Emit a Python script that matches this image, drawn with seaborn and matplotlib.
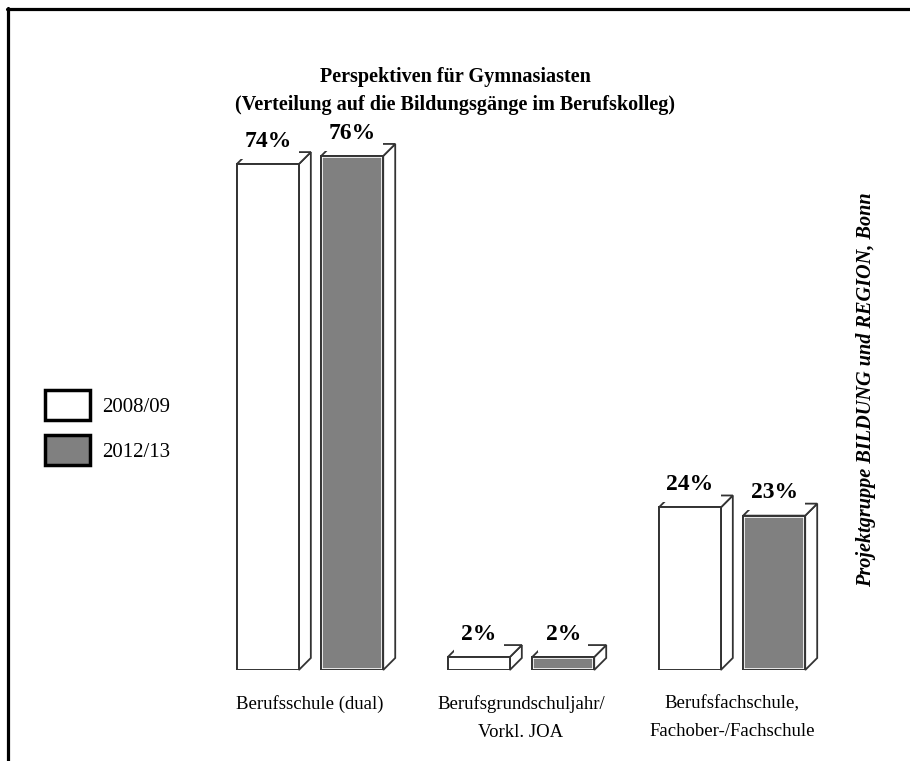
import numpy as np
import pandas as pd
import seaborn as sns
from matplotlib import pyplot as plt
from matplotlib.patches import Polygon, Patch, Rectangle
from matplotlib.lines import Line2D

categories = ["Berufsschule (dual)",
              "Berufsgrundschuljahr/\nVorkl. JOA",
              "Berufsfachschule,\nFachober-/Fachschule"]
years = ["2008/09", "2012/13"]
# shares in percent (labels shown rounded)
vals_2008 = [74.4, 1.9, 23.9]
vals_2012 = [75.6, 1.9, 22.7]
colors = ["white", "#808080"]

df = pd.DataFrame({
    "cat": categories * 2,
    "year": [years[0]] * 3 + [years[1]] * 3,
    "val": vals_2008 + vals_2012,
})

sns.set_style("white")
plt.rcParams["font.family"] = ["Liberation Serif", "DejaVu Serif"]
plt.rcParams["text.color"] = "black"
plt.rcParams["xtick.color"] = "black"

fig = plt.figure(figsize=(9.1, 7.61), dpi=100)
ax = fig.add_axes([0.132, 0.1196, 0.8115, 0.7148])

sns.barplot(data=df, x="cat", y="val", hue="year", palette=colors,
            width=0.8, gap=0.265, errorbar=None, edgecolor="#333333",
            linewidth=1.4, legend=False, ax=ax, zorder=2)

ax.set_xlim(-0.9, 2.6)
ax.set_ylim(0, 80)

# fake 3D depth
dx = 12 / 211
dy = 12 / 6.8
for p in list(ax.patches):
    x0 = p.get_x()
    w = p.get_width()
    x1 = x0 + w
    h = p.get_height()
    # thin white line just inside the outline
    inner = Rectangle((x0, 0), w, h, facecolor="none", edgecolor="white",
                      linewidth=2.6, zorder=2.2)
    ax.add_patch(inner)
    inner.set_clip_path(p)
    ax.add_patch(Rectangle((x0, 0), w, h, facecolor="none", edgecolor="#333333",
                           linewidth=1.4, zorder=2.5))
    side = Polygon([(x1, 0), (x1 + dx, dy), (x1 + dx, h + dy), (x1, h)],
                   closed=True, facecolor="white", edgecolor="#333333",
                   linewidth=1.3, zorder=1.5, clip_on=False)
    top = Polygon([(x0, h), (x1, h), (x1 + dx, h + dy), (x0 + dx, h + dy)],
                  closed=True, facecolor="white", edgecolor="#333333",
                  linewidth=1.3, zorder=1.5, clip_on=False)
    ax.add_patch(side)
    ax.add_patch(top)
    ax.annotate(f"{h:.0f}%", xy=(x0 + w / 2, h),
                xytext=(0, 16.5), textcoords="offset points",
                ha="center", va="center", fontsize=17, fontweight="bold",
                zorder=5, annotation_clip=False,
                bbox=dict(boxstyle="square,pad=0.3", fc="white", ec="none"))

for s in ax.spines.values():
    s.set_visible(False)
ax.set_yticks([])
ax.set_xlabel("")
ax.set_ylabel("")
ax.set_xticks(range(len(categories)))
ax.set_xticklabels(categories, fontsize=13.5, linespacing=1.85)
ax.tick_params(axis="x", length=0, pad=18)

handles = [Patch(facecolor=c, edgecolor="black", linewidth=2.5) for c in colors]
ax.legend(handles, years, loc="upper left", bbox_to_anchor=(45 / 910, 1 - 390 / 761),
          bbox_transform=fig.transFigure, frameon=False, fontsize=15,
          handlelength=2.15, handleheight=1.85, handletextpad=0.6,
          labelspacing=0.72, borderpad=0, borderaxespad=0)

fig.text(455 / 910, 1 - 91 / 761,
         "Perspektiven für Gymnasiasten\n(Verteilung auf die Bildungsgänge im Berufskolleg)",
         ha="center", va="center", fontsize=14.5, fontweight="bold", linespacing=1.56)

fig.text(866 / 910, 1 - 390 / 761, "Projektgruppe BILDUNG und REGION, Bonn",
         rotation=90, ha="center", va="center", fontsize=14.6,
         fontweight="bold", fontstyle="italic")

# frame (top and left edge only)
fig.add_artist(Line2D([7 / 910, 1], [1 - 9 / 761, 1 - 9 / 761],
                      transform=fig.transFigure, color="black", linewidth=2.3))
fig.add_artist(Line2D([8 / 910, 8 / 910], [1 - 8 / 761, 0],
                      transform=fig.transFigure, color="black", linewidth=2.3))

fig.savefig("out.png", dpi=100, facecolor="white")
